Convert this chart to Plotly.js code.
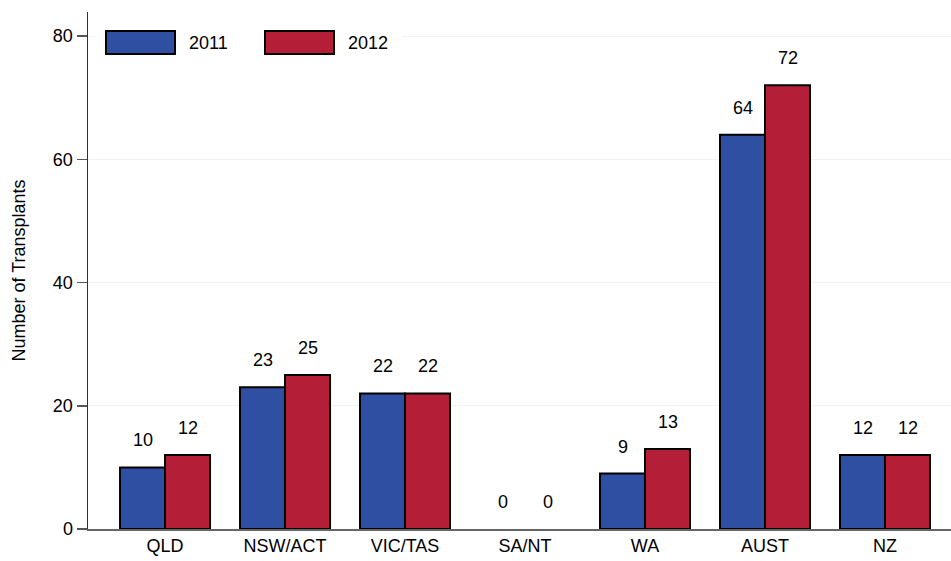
<!DOCTYPE html>
<html>
<head>
<meta charset="utf-8">
<script src="https://cdn.plot.ly/plotly-3.0.1.min.js"></script>
<style>html,body{margin:0;padding:0;background:#fff;}#chart{width:951px;height:561px;}</style>
</head>
<body>
<div id="chart"></div>
<script>
const categories = ["QLD", "NSW/ACT", "VIC/TAS", "SA/NT", "WA", "AUST", "NZ"];
const values2011 = [10, 23, 22, 0, 9, 64, 12];
const values2012 = [12, 25, 22, 0, 13, 72, 12];
const seriesNames = ["2011", "2012"];
const yTicks = [0, 20, 40, 60, 80];

const colors = ["#2f4fa2", "#b41f37"];
const font = "Liberation Sans, Arial, sans-serif";

const series = [values2011, values2012];
const traces = series.map((vals, s) => ({
  type: "bar",
  name: seriesNames[s],
  x: categories,
  y: vals,
  marker: {color: colors[s], line: {color: "#000", width: vals.map(v => v === 0 ? 0 : 2)}},
  showlegend: false,
  hoverinfo: "x+y+name"
}));

const annotations = [];
series.forEach((vals, s) => {
  vals.forEach((v, i) => {
    annotations.push({
      x: categories[i], y: v, xref: "x", yref: "y",
      text: String(v), showarrow: false,
      xshift: s === 0 ? -22.5 : 22.5, yshift: 27, yanchor: "middle",
      font: {family: font, size: 18, color: "#000"}
    });
  });
});

// manual legend (paper coords)
const W = 951 - 88, H = 561 - 12 - 32;
const px = x => (x - 88) / W;
const py = y => (561 - 32 - y) / H;
const shapes = [
  {type: "rect", xref: "paper", yref: "paper", x0: px(95), x1: px(402), y0: py(62), y1: py(18),
   fillcolor: "#fff", line: {width: 0}, layer: "above"},
  {type: "rect", xref: "paper", yref: "paper", x0: px(106), x1: px(175), y0: py(54), y1: py(31),
   fillcolor: colors[0], line: {color: "#000", width: 2}, layer: "above"},
  {type: "rect", xref: "paper", yref: "paper", x0: px(265), x1: px(334), y0: py(54), y1: py(31),
   fillcolor: colors[1], line: {color: "#000", width: 2}, layer: "above"}
];
annotations.push(
  {xref: "paper", yref: "paper", x: px(187), y: py(43), xanchor: "left", yanchor: "middle",
   text: seriesNames[0], showarrow: false, font: {family: font, size: 18, color: "#000"}},
  {xref: "paper", yref: "paper", x: px(346), y: py(43), xanchor: "left", yanchor: "middle",
   text: seriesNames[1], showarrow: false, font: {family: font, size: 18, color: "#000"}}
);

const layout = {
  width: 951, height: 561,
  margin: {l: 88, r: 0, t: 12, b: 32},
  paper_bgcolor: "#fff", plot_bgcolor: "#fff",
  barmode: "group", bargap: 0.25, bargroupgap: 0,
  font: {family: font, size: 18, color: "#000"},
  xaxis: {
    type: "category", range: [-0.642, 6.55],
    showline: true, linecolor: "#666", linewidth: 1.5,
    ticks: "", showgrid: false, zeroline: false,
    tickfont: {family: font, size: 18, color: "#000"}
  },
  yaxis: {
    range: [0, 83.9], tickvals: yTicks,
    showline: true, linecolor: "#333", linewidth: 1.5,
    ticks: "outside", ticklen: 10, tickcolor: "#555", tickwidth: 1.5,
    showgrid: true, gridcolor: "#eef3f3", gridwidth: 1,
    zeroline: false,
    tickfont: {family: font, size: 18, color: "#000"},
    title: {text: "Number of Transplants", font: {family: font, size: 18, color: "#000"}, standoff: 22}
  },
  shapes: shapes,
  annotations: annotations
};

Plotly.newPlot("chart", traces, layout, {displayModeBar: false, staticPlot: true});
</script>
</body>
</html>
